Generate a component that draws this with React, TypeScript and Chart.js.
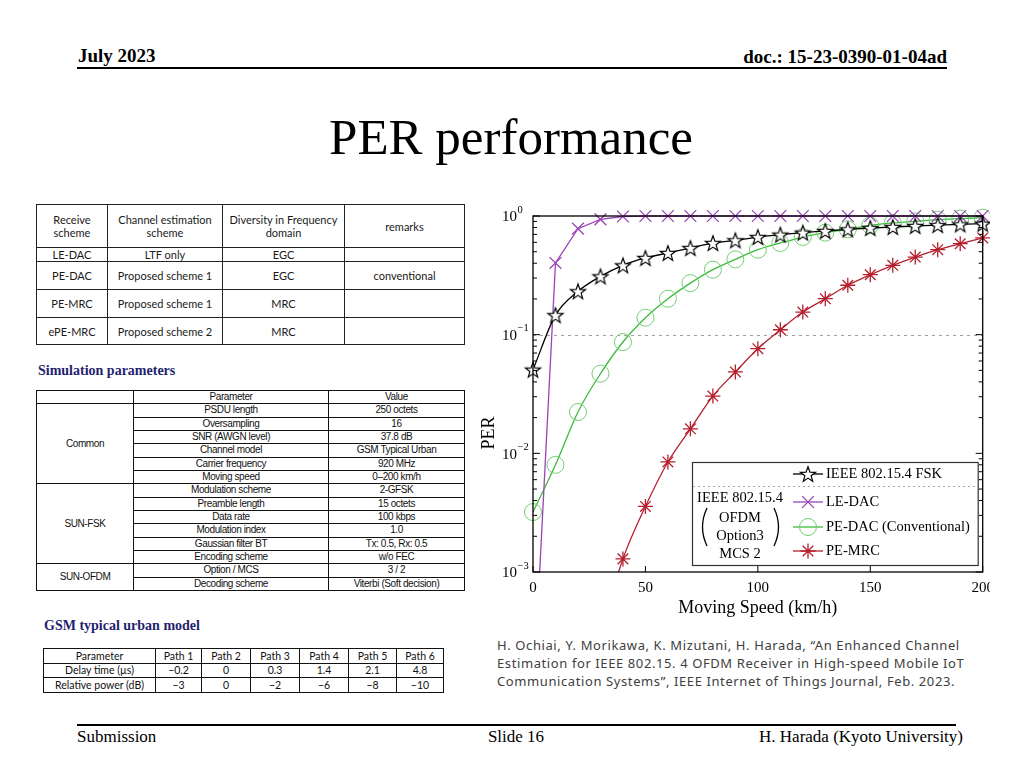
import React, { useEffect, useRef } from "react";
import { Chart, registerables } from "chart.js";

Chart.register(...registerables);

// ---------- chart data ----------
const speeds = [0, 10, 20, 30, 40, 50, 60, 70, 80, 90, 100, 110, 120, 130, 140, 150, 160, 170, 180, 190, 200];
const fskPER = [0.0507, 0.146, 0.232, 0.31, 0.384, 0.443, 0.488, 0.537, 0.592, 0.624, 0.665, 0.696, 0.724, 0.748, 0.772, 0.792, 0.808, 0.824, 0.839, 0.851, 0.861];
const leDacPER = [0.00008, 0.402, 0.782, 0.938, 0.99, 1, 1, 1, 1, 1, 1, 1, 1, 1, 1, 1, 1, 1, 1, 1, 1];
const peDacPER = [0.0032, 0.008, 0.0223, 0.0469, 0.0867, 0.139, 0.201, 0.272, 0.353, 0.431, 0.52, 0.592, 0.665, 0.724, 0.772, 0.834, 0.873, 0.902, 0.931, 0.95, 0.968];
const peMrcPER: (number | null)[] = [null, null, null, 0.0003, 0.00129, 0.00357, 0.00846, 0.0161, 0.0304, 0.0485, 0.0762, 0.11, 0.155, 0.201, 0.261, 0.32, 0.384, 0.451, 0.52, 0.584, 0.653];

const xTickValues = [0, 50, 100, 150, 200];
const yTickExponents = [0, -1, -2, -3];
const seriesNames = ["IEEE 802.15.4 FSK", "LE-DAC", "PE-DAC (Conventional)", "PE-MRC"];
const ofdmLabel = ["IEEE 802.15.4", "OFDM", "Option3", "MCS 2"];

// ---------- table data ----------
const methodHeader = ["Receive\nscheme", "Channel estimation\nscheme", "Diversity in Frequency\ndomain", "remarks"];
const methodRows = [
  ["LE-DAC", "LTF only", "EGC", ""],
  ["PE-DAC", "Proposed scheme 1", "EGC", "conventional"],
  ["PE-MRC", "Proposed scheme 1", "MRC", ""],
  ["ePE-MRC", "Proposed scheme 2", "MRC", ""],
];
const simHeader = ["", "Parameter", "Value"];
const commonRows = [
  ["PSDU length", "250 octets"],
  ["Oversampling", "16"],
  ["SNR (AWGN level)", "37.8 dB"],
  ["Channel model", "GSM Typical Urban"],
  ["Carrier frequency", "920 MHz"],
  ["Moving speed", "0–200 km/h"],
];
const fskRows = [
  ["Modulation scheme", "2-GFSK"],
  ["Preamble length", "15 octets"],
  ["Data rate", "100 kbps"],
  ["Modulation index", "1.0"],
  ["Gaussian filter BT", "Tx: 0.5, Rx: 0.5"],
  ["Encoding scheme", "w/o FEC"],
];
const ofdmRows = [
  ["Option / MCS", "3 / 2"],
  ["Decoding scheme", "Viterbi (Soft decision)"],
];
const gsmHeader = ["Parameter", "Path 1", "Path 2", "Path 3", "Path 4", "Path 5", "Path 6"];
const gsmDelay = ["Delay time (µs)", "−0.2", "0", "0.3", "1.4", "2.1", "4.8"];
const gsmPower = ["Relative power (dB)", "−3", "0", "−2", "−6", "−8", "−10"];
const citationLines = [
  "H. Ochiai, Y. Morikawa, K. Mizutani, H. Harada, “An Enhanced Channel",
  "Estimation for IEEE 802.15. 4 OFDM Receiver in High-speed Mobile IoT",
  "Communication Systems”, IEEE Internet of Things Journal, Feb. 2023.",
];

const SERIF = '"Liberation Serif", "Times New Roman", serif';
const PURPLE = "#9b44b5";
const GREEN = "#3dba3d";
const GREEN_MK = "#72cf72";
const RED = "#b5202e";

function makeStar(): HTMLCanvasElement {
  const c = document.createElement("canvas");
  c.width = 22;
  c.height = 22;
  const ctx = c.getContext("2d")!;
  const R = 8, r = 3.3;
  ctx.beginPath();
  for (let i = 0; i < 10; i++) {
    const rad = i % 2 === 0 ? R : r;
    const ang = -Math.PI / 2 + (i * Math.PI) / 5;
    const px = 11 + rad * Math.cos(ang);
    const py = 11.8 + rad * Math.sin(ang);
    if (i === 0) ctx.moveTo(px, py);
    else ctx.lineTo(px, py);
  }
  ctx.closePath();
  ctx.fillStyle = "#fff";
  ctx.fill();
  ctx.lineWidth = 1.2;
  ctx.strokeStyle = "#000";
  ctx.lineJoin = "miter";
  ctx.stroke();
  return c;
}

function pts(vals: (number | null)[]) {
  return speeds.map((s, i) => ({ x: s, y: vals[i] }));
}

function ChartBox() {
  const ref = useRef<HTMLCanvasElement>(null);
  useEffect(() => {
    const star = makeStar();
    const deco = {
      id: "deco",
      beforeDatasetsDraw(chart: any) {
        const { ctx, chartArea: a, scales } = chart;
        const yy = Math.round(scales.y.getPixelForValue(0.1)) + 0.5;
        ctx.save();
        ctx.strokeStyle = "#a0a0a0";
        ctx.lineWidth = 1;
        ctx.setLineDash([3, 4]);
        ctx.beginPath();
        ctx.moveTo(a.left, yy);
        ctx.lineTo(a.right, yy);
        ctx.stroke();
        ctx.restore();
      },
      afterDraw(chart: any) {
        const { ctx, chartArea: a, scales } = chart;
        const xs = scales.x, ys = scales.y;
        ctx.save();
        // box
        ctx.strokeStyle = "#000";
        ctx.lineWidth = 1.3;
        ctx.strokeRect(a.left, a.top, a.right - a.left, a.bottom - a.top);
        // y ticks
        ctx.lineWidth = 1;
        for (let d = -3; d <= 0; d++) {
          const py = ys.getPixelForValue(Math.pow(10, d));
          ctx.beginPath();
          ctx.moveTo(a.left, py); ctx.lineTo(a.left + 7, py);
          ctx.moveTo(a.right, py); ctx.lineTo(a.right - 7, py);
          ctx.stroke();
          if (d < 0) {
            for (let m = 2; m <= 9; m++) {
              const q = ys.getPixelForValue(m * Math.pow(10, d));
              ctx.beginPath();
              ctx.moveTo(a.left, q); ctx.lineTo(a.left + 4, q);
              ctx.moveTo(a.right, q); ctx.lineTo(a.right - 4, q);
              ctx.stroke();
            }
          }
        }
        // x ticks
        xTickValues.forEach((v) => {
          const px = xs.getPixelForValue(v);
          ctx.beginPath();
          ctx.moveTo(px, a.bottom); ctx.lineTo(px, a.bottom - 6);
          ctx.stroke();
        });
        // labels
        ctx.fillStyle = "#000";
        ctx.textBaseline = "middle";
        ctx.font = `15px ${SERIF}`;
        ctx.textAlign = "center";
        xTickValues.forEach((v) => {
          ctx.fillText(String(v), xs.getPixelForValue(v), a.bottom + 16);
        });
        yTickExponents.forEach((e) => {
          const py = ys.getPixelForValue(Math.pow(10, e));
          ctx.font = `15px ${SERIF}`;
          ctx.textAlign = "right";
          ctx.fillText("10", a.left - 16, py + 1.5);
          ctx.font = `10.5px ${SERIF}`;
          ctx.textAlign = "left";
          ctx.fillText(e === 0 ? "0" : "−" + String(-e), a.left - 15.5, py - 6);
        });
        // axis titles
        ctx.font = `18px ${SERIF}`;
        ctx.textAlign = "center";
        ctx.textBaseline = "alphabetic";
        ctx.fillText("Moving Speed (km/h)", (a.left + a.right) / 2, a.bottom + 40.5);
        ctx.save();
        ctx.translate(a.left - 39.5, (a.top + a.bottom) / 2 + 39);
        ctx.rotate(-Math.PI / 2);
        ctx.fillText("PER", 0, 0);
        ctx.restore();

        // legend
        const L = a.left + 159, T = a.top + 246, R = a.right - 5, B = a.bottom - 7;
        ctx.fillStyle = "#fff";
        ctx.fillRect(L, T, R - L, B - T);
        ctx.strokeStyle = "#333";
        ctx.lineWidth = 1.2;
        ctx.strokeRect(L + 0.5, T + 0.5, R - L, B - T);
        ctx.strokeStyle = "#a8a8a8";
        ctx.lineWidth = 1;
        ctx.setLineDash([2, 3]);
        ctx.beginPath();
        ctx.moveTo(L + 1, T + 24.5); ctx.lineTo(R, T + 24.5);
        ctx.stroke();
        ctx.setLineDash([]);
        const sx0 = L + 101, sx1 = L + 131, mx = L + 116;
        const rows = [T + 12, T + 40, T + 65, T + 89];
        const colors = ["#000", PURPLE, GREEN, RED];
        rows.forEach((ry, i) => {
          ctx.strokeStyle = colors[i];
          ctx.lineWidth = 1.3;
          ctx.beginPath();
          ctx.moveTo(sx0, ry); ctx.lineTo(sx1, ry);
          ctx.stroke();
          if (i === 0) {
            ctx.drawImage(star, mx - 11, ry - 11);
          } else if (i === 1) {
            const o = 8.3 * Math.SQRT1_2;
            ctx.beginPath();
            ctx.moveTo(mx - o, ry - o); ctx.lineTo(mx + o, ry + o);
            ctx.moveTo(mx - o, ry + o); ctx.lineTo(mx + o, ry - o);
            ctx.stroke();
          } else if (i === 2) {
            ctx.strokeStyle = GREEN_MK;
            ctx.lineWidth = 1;
            ctx.beginPath();
            ctx.arc(mx, ry, 8.5, 0, Math.PI * 2);
            ctx.stroke();
          } else {
            const rr = 7.5, o = rr * Math.SQRT1_2;
            ctx.beginPath();
            ctx.moveTo(mx - rr, ry); ctx.lineTo(mx + rr, ry);
            ctx.moveTo(mx, ry - rr); ctx.lineTo(mx, ry + rr);
            ctx.moveTo(mx - o, ry - o); ctx.lineTo(mx + o, ry + o);
            ctx.moveTo(mx - o, ry + o); ctx.lineTo(mx + o, ry - o);
            ctx.stroke();
          }
          ctx.fillStyle = "#000";
          ctx.font = `14.5px ${SERIF}`;
          ctx.textAlign = "left";
          ctx.textBaseline = "middle";
          ctx.fillText(seriesNames[i], sx1 + 3, ry + 0.5);
        });
        const cx = L + 48;
        ctx.textAlign = "center";
        ctx.fillText(ofdmLabel[0], cx, T + 36);
        ctx.fillText(ofdmLabel[1], cx, T + 56);
        ctx.fillText(ofdmLabel[2], cx, T + 74);
        ctx.fillText(ofdmLabel[3], cx, T + 92);
        ctx.strokeStyle = "#000";
        ctx.lineWidth = 1.3;
        ctx.beginPath();
        ctx.moveTo(L + 15, T + 46);
        ctx.quadraticCurveTo(L + 6, T + 65, L + 15, T + 84);
        ctx.moveTo(L + 82, T + 46);
        ctx.quadraticCurveTo(L + 91, T + 65, L + 82, T + 84);
        ctx.stroke();
        ctx.restore();
      },
    };

    const clip = { left: 15, right: 15, top: 15, bottom: 0 };
    const chart = new Chart(ref.current!, {
      type: "line",
      data: {
        datasets: [
          {
            label: seriesNames[0],
            data: pts(fskPER),
            borderColor: "#000",
            borderWidth: 1.3,
            pointStyle: star,
            pointRadius: 9,
            cubicInterpolationMode: "monotone",
            clip,
          },
          {
            label: seriesNames[1],
            data: pts(leDacPER),
            borderColor: PURPLE,
            pointBorderColor: PURPLE,
            borderWidth: 1.3,
            pointStyle: "crossRot",
            pointRadius: 8.3,
            pointBorderWidth: 1.3,
            tension: 0,
            clip,
          },
          {
            label: seriesNames[2],
            data: pts(peDacPER),
            borderColor: GREEN,
            borderWidth: 1.3,
            pointStyle: "circle",
            pointRadius: 8.5,
            pointBorderColor: GREEN_MK,
            pointBackgroundColor: "rgba(0,0,0,0)",
            pointBorderWidth: 1,
            cubicInterpolationMode: "monotone",
            clip,
          },
          {
            label: seriesNames[3],
            data: pts(peMrcPER),
            borderColor: RED,
            pointBorderColor: RED,
            borderWidth: 1.3,
            pointStyle: "star",
            pointRadius: 7.5,
            pointBorderWidth: 1.3,
            cubicInterpolationMode: "monotone",
            clip,
          },
        ] as any,
      },
      options: {
        responsive: false,
        animation: false,
        devicePixelRatio: 1,
        layout: { padding: { top: 26, right: 10, left: 0, bottom: 0 } },
        plugins: { legend: { display: false }, tooltip: { enabled: false } },
        scales: {
          x: {
            type: "linear",
            min: 0,
            max: 200,
            ticks: { display: false },
            grid: { display: false },
            border: { display: false },
            afterFit: (s: any) => { s.height = 50; },
          },
          y: {
            type: "logarithmic",
            min: 0.001,
            max: 1,
            ticks: { display: false },
            grid: { display: false },
            border: { display: false },
            afterFit: (s: any) => { s.width = 63; },
          },
        },
      } as any,
      plugins: [deco],
    });
    return () => chart.destroy();
  }, []);
  return (
    <div style={{ position: "absolute", left: 470, top: 190, width: 520, height: 432, overflow: "hidden" }}>
      <canvas ref={ref} width={523} height={432} style={{ display: "block" }} />
    </div>
  );
}

const abs = (o: React.CSSProperties): React.CSSProperties => ({ position: "absolute", ...o });

function MethodTable() {
  const cols = [71, 115, 122, 120];
  const heights = [43, 14, 28, 28, 27];
  const cell: React.CSSProperties = {
    border: "1.5px solid #222",
    padding: 0,
    textAlign: "center",
    verticalAlign: "middle",
    whiteSpace: "pre-line",
    lineHeight: "13px",
    overflow: "hidden",
  };
  return (
    <table style={{ ...abs({ left: 36, top: 204 }), borderCollapse: "collapse", tableLayout: "fixed", width: 428, fontFamily: "Lato, sans-serif", fontSize: 11, color: "#1a1a1a" }}>
      <colgroup>{cols.map((w, i) => <col key={i} style={{ width: w }} />)}</colgroup>
      <tbody>
        <tr style={{ height: heights[0] }}>{methodHeader.map((t, i) => <td key={i} style={cell}>{t}</td>)}</tr>
        {methodRows.map((r, ri) => (
          <tr key={ri} style={{ height: heights[ri + 1] }}>{r.map((t, i) => <td key={i} style={cell}>{t}</td>)}</tr>
        ))}
      </tbody>
    </table>
  );
}

function SimTable() {
  const cell: React.CSSProperties = {
    border: "1px solid #111",
    padding: 0,
    textAlign: "center",
    verticalAlign: "middle",
    lineHeight: "12px",
    whiteSpace: "nowrap",
    overflow: "hidden",
  };
  const rh = 13.33;
  const groups: [string, string[][]][] = [["Common", commonRows], ["SUN-FSK", fskRows], ["SUN-OFDM", ofdmRows]];
  return (
    <table style={{ ...abs({ left: 36, top: 390 }), borderCollapse: "collapse", tableLayout: "fixed", width: 428, border: "1.5px solid #111", fontFamily: '"Liberation Sans", Arial, sans-serif', fontSize: 10, letterSpacing: "-0.4px", color: "#111" }}>
      <colgroup>
        <col style={{ width: 97 }} />
        <col style={{ width: 195 }} />
        <col style={{ width: 136 }} />
      </colgroup>
      <tbody>
        <tr style={{ height: rh }}>{simHeader.map((t, i) => <td key={i} style={cell}>{t}</td>)}</tr>
        {groups.map(([name, rows]) =>
          rows.map((r, ri) => (
            <tr key={name + ri} style={{ height: rh }}>
              {ri === 0 && <td rowSpan={rows.length} style={{ ...cell, borderTop: "1.5px solid #111", borderBottom: "1.5px solid #111" }}>{name}</td>}
              <td style={cell}>{r[0]}</td>
              <td style={cell}>{r[1]}</td>
            </tr>
          ))
        )}
      </tbody>
    </table>
  );
}

function GsmTable() {
  const cols = [112, 46, 49, 49, 49, 48, 47];
  const cell: React.CSSProperties = {
    border: "1.2px solid #111",
    padding: 0,
    textAlign: "center",
    verticalAlign: "middle",
    lineHeight: "12px",
    whiteSpace: "nowrap",
  };
  return (
    <table style={{ ...abs({ left: 43, top: 648 }), borderCollapse: "collapse", tableLayout: "fixed", width: 400, border: "1.5px solid #111", fontFamily: "Lato, sans-serif", fontSize: 10.5, color: "#111" }}>
      <colgroup>{cols.map((w, i) => <col key={i} style={{ width: w }} />)}</colgroup>
      <tbody>
        {[gsmHeader, gsmDelay, gsmPower].map((r, ri) => (
          <tr key={ri} style={{ height: 14.6 }}>{r.map((t, i) => <td key={i} style={cell}>{t}</td>)}</tr>
        ))}
      </tbody>
    </table>
  );
}

export default function App() {
  const navy: React.CSSProperties = { fontFamily: SERIF, fontWeight: "bold", fontSize: 14, lineHeight: "14px", color: "#1f1f70" };
  return (
    <div style={{ position: "absolute", left: 0, top: 0, width: 1024, height: 768, background: "#fff", overflow: "hidden", fontFamily: SERIF, color: "#000" }}>
      <div style={abs({ left: 78, top: 46, fontSize: 19, lineHeight: "19px", fontWeight: "bold" })}>July 2023</div>
      <div style={abs({ right: 77, top: 47, fontSize: 19, lineHeight: "19px", fontWeight: "bold" })}>doc.: 15-23-0390-01-04ad</div>
      <div style={abs({ left: 77, top: 67, width: 870, height: 2, background: "#000" })} />
      <div style={abs({ left: 261, width: 500, top: 112, fontSize: 51, lineHeight: "51px", textAlign: "center" })}>PER performance</div>

      <MethodTable />
      <div style={abs({ left: 38, top: 364, ...navy })}>Simulation parameters</div>
      <SimTable />
      <div style={abs({ left: 44, top: 619, ...navy })}>GSM typical urban model</div>
      <GsmTable />

      <ChartBox />

      <div style={abs({ left: 497, top: 636, fontFamily: '"Noto Sans", sans-serif', fontSize: 13, lineHeight: "18px", color: "#404040", letterSpacing: "0.6px", whiteSpace: "pre" })}>
        {citationLines.join("\n")}
      </div>

      <div style={abs({ left: 77, top: 724, width: 879, height: 2, background: "#000" })} />
      <div style={abs({ left: 77, top: 728, fontSize: 17, lineHeight: "17px" })}>Submission</div>
      <div style={abs({ left: 416, width: 200, top: 728, fontSize: 17, lineHeight: "17px", textAlign: "center" })}>Slide 16</div>
      <div style={abs({ right: 61, top: 728, fontSize: 17, lineHeight: "17px" })}>H. Harada (Kyoto University)</div>
    </div>
  );
}
